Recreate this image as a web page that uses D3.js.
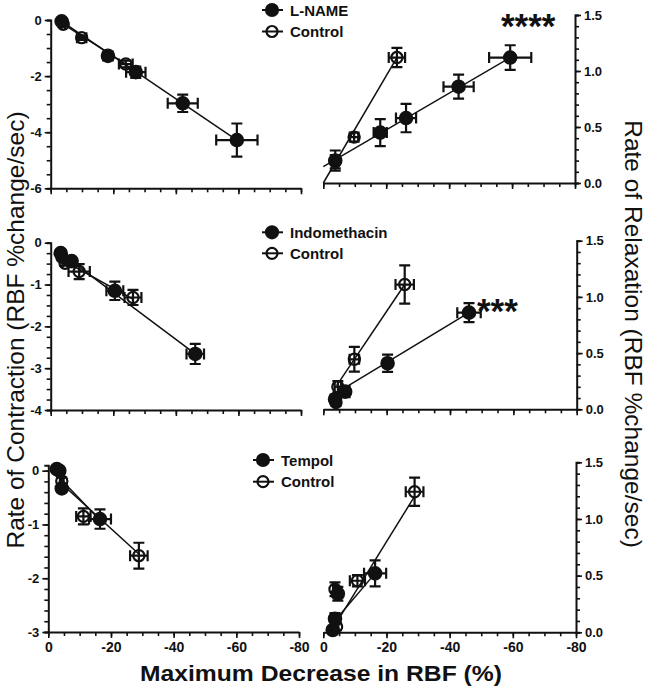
<!DOCTYPE html>
<html><head><meta charset="utf-8">
<script src="https://cdn.jsdelivr.net/npm/d3@7"></script>
<style>body{margin:0;background:#fff}svg text{font-family:"Liberation Sans",Arial,sans-serif;fill:#111}</style>
</head><body><svg id="c" width="648" height="691"></svg>
<script>
// ---------- DATA (x = max decrease in RBF %, y = rate, xe / ye = SEM) ----------
const xTickValues = [0, -20, -40, -60, -80];
const legendNames = [["L-NAME", "Control"], ["Indomethacin", "Control"], ["Tempol", "Control"]];
const starLabels = ["****", "***", ""];

// Panel 1 : L-NAME
const lnameContraction        = [[-3.5,-0.05,0.6,0.06],[-18.3,-1.28,1.5,0.08],[-27.2,-1.86,3.1,0.2],[-42.2,-2.97,4.8,0.31],[-59.5,-4.28,6.6,0.59]];
const lnameCtrlContraction    = [[-4.0,-0.15,0.6,0.06],[-9.9,-0.63,1.5,0.08],[-24.0,-1.57,2.2,0.12]];
const lnameRelaxation         = [[-3.8,0.20,1.2,0.09],[-18.1,0.45,2.1,0.12],[-26.3,0.58,3.2,0.127],[-43.0,0.86,4.8,0.107],[-59.4,1.12,6.7,0.11]];
const lnameCtrlRelaxation     = [[-3.8,0.19,0.8,0.06],[-9.8,0.41,1.3,0.04],[-23.4,1.12,2.6,0.086]];
const lnameContractionFit     = [[-3.5,-0.05],[-59.5,-4.28]];
const lnameCtrlContractionFit = [[-4.0,-0.15],[-24.0,-1.57]];
const lnameRelaxationFit      = [[0,0.146],[-59.4,1.12]];
const lnameCtrlRelaxationFit  = [[0,0.0],[-23.4,1.12]];

// Panel 2 : Indomethacin
const indoContraction         = [[-3.2,-0.25,0.5,0.05],[-6.7,-0.44,1.0,0.06],[-20.5,-1.15,2.7,0.22],[-46.2,-2.66,2.8,0.24]];
const indoCtrlContraction     = [[-3.6,-0.35,0.5,0.06],[-4.6,-0.49,0.8,0.06],[-9.1,-0.69,3.4,0.18],[-26.3,-1.31,2.7,0.18]];
const indoRelaxation          = [[-3.7,0.09,0.5,0.04],[-6.9,0.157,1.2,0.05],[-20.3,0.41,1.0,0.077],[-46.0,0.86,3.7,0.085]];
const indoCtrlRelaxation      = [[-4.0,0.06,0.5,0.03],[-4.6,0.20,1.0,0.05],[-9.8,0.445,1.5,0.11],[-25.7,1.11,2.9,0.17]];
const indoContractionFit      = [[-3.2,-0.25],[-46.2,-2.66]];
const indoCtrlContractionFit  = [[-4.6,-0.45],[-26.3,-1.35]];
const indoRelaxationFit       = [[-4.8,0.157],[-46.0,0.86]];
const indoCtrlRelaxationFit   = [[-4.2,0.21],[-25.7,1.11]];

// Panel 3 : Tempol
const tempolContraction        = [[-2.7,0.03,0.5,0.05],[-3.5,0.0,0.6,0.05],[-4.3,-0.33,0.8,0.06],[-16.5,-0.90,3.5,0.18]];
const tempolCtrlContraction    = [[-3.2,0.02,0.4,0.04],[-4.3,-0.19,0.6,0.06],[-11.2,-0.85,2.3,0.15],[-28.9,-1.58,2.8,0.24]];
const tempolRelaxation         = [[-3.0,0.02,0.5,0.02],[-3.7,0.12,0.6,0.05],[-4.6,0.34,0.8,0.06],[-16.4,0.52,3.5,0.115]];
const tempolCtrlRelaxation     = [[-4.2,0.05,0.5,0.03],[-3.7,0.38,0.6,0.06],[-10.8,0.455,2.4,0.05],[-28.9,1.24,2.8,0.125]];
const tempolContractionFit     = [[-3.0,-0.1],[-16.5,-0.92]];
const tempolCtrlContractionFit = [[-3.5,-0.2],[-28.9,-1.55]];
const tempolRelaxationFit      = [[-4.2,0.12],[-16.4,0.52]];
const tempolCtrlRelaxationFit  = [[-2.7,0.02],[-28.9,1.2]];

// ---------- LAYOUT ----------
const panels = [
  { left:{domain:[-6,0], major:[0,-2,-4,-6], minorStep:0.5, top:20, bottom:188.3, x0:50.7, x1:301},
    right:{domain:[0,1.5], top:15, bottom:183, x0:323.3, x1:575},
    legend:{x:272, y:[10,31.5]}, star:{x:501, y:38},
    series:[
      {side:"left", filled:true, pts:lnameContraction, fit:lnameContractionFit},
      {side:"left", filled:false, pts:lnameCtrlContraction, fit:lnameCtrlContractionFit},
      {side:"right", filled:true, pts:lnameRelaxation, fit:lnameRelaxationFit},
      {side:"right", filled:false, pts:lnameCtrlRelaxation, fit:lnameCtrlRelaxationFit}]},
  { left:{domain:[-4,0], major:[0,-1,-2,-3,-4], minorStep:0.25, top:242.7, bottom:410, x0:50.7, x1:301},
    right:{domain:[0,1.5], top:240.7, bottom:409.3, x0:323.3, x1:576.7},
    legend:{x:272, y:[232.3,253.3]}, star:{x:477, y:323},
    series:[
      {side:"left", filled:true, pts:indoContraction, fit:indoContractionFit},
      {side:"left", filled:false, pts:indoCtrlContraction, fit:indoCtrlContractionFit},
      {side:"right", filled:true, pts:indoRelaxation, fit:indoRelaxationFit},
      {side:"right", filled:false, pts:indoCtrlRelaxation, fit:indoCtrlRelaxationFit}]},
  { left:{domain:[-3,0.1], major:[0,-1,-2,-3], minorStep:0.2, top:465.3, bottom:632, x0:48.3, x1:299},
    right:{domain:[0,1.5], top:462.3, bottom:632.3, x0:323.3, x1:576},
    legend:{x:263, y:[460,481.7]}, star:null, xLabels:true,
    series:[
      {side:"left", filled:true, pts:tempolContraction, fit:tempolContractionFit},
      {side:"left", filled:false, pts:tempolCtrlContraction, fit:tempolCtrlContractionFit},
      {side:"right", filled:true, pts:tempolRelaxation, fit:tempolRelaxationFit},
      {side:"right", filled:false, pts:tempolCtrlRelaxation, fit:tempolCtrlRelaxationFit}]}
];

const svg = d3.select("#c");
const INK = "#111";
const xMinor = d3.range(0, 17).map(i => -i * 5);

function styleAxis(g, w) {
  g.select(".domain").attr("stroke", INK).attr("stroke-width", w);
  g.selectAll(".tick line").attr("stroke", INK).attr("stroke-width", 1.6);
  g.selectAll(".tick text").attr("fill", INK).attr("font-weight", "bold").attr("font-size", "12.5px")
    .attr("font-family", '"Liberation Sans",Arial,sans-serif');
}

panels.forEach((p, pi) => {
  const yL = d3.scaleLinear().domain(p.left.domain).range([p.left.bottom, p.left.top]);
  const yR = d3.scaleLinear().domain(p.right.domain).range([p.right.bottom, p.right.top]);
  const xL = d3.scaleLinear().domain([0, -80]).range([p.left.x0, p.left.x1]);
  const xR = d3.scaleLinear().domain([0, -80]).range([p.right.x0, p.right.x1]);

  // ---- left panel axes
  const minorL = d3.range(0, Math.round(-p.left.domain[0] / p.left.minorStep) + 1).map(i => -i * p.left.minorStep);
  svg.append("g").attr("transform", `translate(${p.left.x0},0)`)
    .call(d3.axisLeft(yL).tickValues(minorL).tickSize(4).tickFormat(""))
    .call(g => styleAxis(g, 2));
  svg.append("g").attr("transform", `translate(${p.left.x0},0)`)
    .call(d3.axisLeft(yL).tickValues(p.left.major).tickSize(6).tickPadding(3).tickFormat(d => String(d)))
    .call(g => { styleAxis(g, 2); g.select(".domain").remove(); g.selectAll(".tick text").attr("font-size", "13px"); });

  // ---- right panel axis
  svg.append("g").attr("transform", `translate(${p.right.x1},0)`)
    .call(d3.axisRight(yR).tickValues(d3.range(0, 16).map(i => i / 10)).tickSize(4).tickFormat(""))
    .call(g => styleAxis(g, 2));
  svg.append("g").attr("transform", `translate(${p.right.x1},0)`)
    .call(d3.axisRight(yR).tickValues([0, 0.5, 1, 1.5]).tickSize(6).tickPadding(3).tickFormat(d => d.toFixed(1)))
    .call(g => { styleAxis(g, 2); g.select(".domain").remove(); g.selectAll(".tick text").attr("font-size", "13px"); });

  // ---- x axes
  [[xL, p.left.bottom], [xR, p.right.bottom]].forEach(([xs, yb]) => {
    svg.append("g").attr("transform", `translate(0,${yb})`)
      .call(d3.axisBottom(xs).tickValues(xMinor).tickSize(4).tickSizeOuter(0).tickFormat(""))
      .call(g => styleAxis(g, 2));
    svg.append("g").attr("transform", `translate(0,${yb})`)
      .call(d3.axisBottom(xs).tickValues(xTickValues).tickSize(6).tickPadding(4)
        .tickFormat(p.xLabels ? (d => String(d)) : ""))
      .call(g => { styleAxis(g, 2); g.select(".domain").remove(); g.selectAll(".tick text").attr("font-size", "14px"); });
  });

  // ---- series
  p.series.forEach(s => {
    const xs = s.side === "left" ? xL : xR;
    const ys = s.side === "left" ? yL : yR;
    const g = svg.append("g");
    g.append("path").attr("d", d3.line().x(d => xs(d[0])).y(d => ys(d[1]))(s.fit))
      .attr("stroke", INK).attr("stroke-width", 1.5).attr("fill", "none");
    const cap = 5.5;
    s.pts.forEach(d => {
      const cx = xs(d[0]), cy = ys(d[1]);
      const xa = xs(d[0] - d[2]), xb = xs(d[0] + d[2]);
      const ya = ys(d[1] - d[3]), yb = ys(d[1] + d[3]);
      const path = d3.path();
      path.moveTo(xa, cy); path.lineTo(xb, cy);
      path.moveTo(xa, cy - cap); path.lineTo(xa, cy + cap);
      path.moveTo(xb, cy - cap); path.lineTo(xb, cy + cap);
      path.moveTo(cx, ya); path.lineTo(cx, yb);
      path.moveTo(cx - cap, ya); path.lineTo(cx + cap, ya);
      path.moveTo(cx - cap, yb); path.lineTo(cx + cap, yb);
      g.append("path").attr("d", path.toString()).attr("stroke", INK).attr("stroke-width", 2.2).attr("fill", "none");
    });
    g.selectAll("circle").data(s.pts).join("circle")
      .attr("cx", d => xs(d[0])).attr("cy", d => ys(d[1]))
      .attr("r", s.filled ? 6.2 : 5.6)
      .attr("fill", s.filled ? INK : "none")
      .attr("stroke", INK).attr("stroke-width", 2.2);
  });

  // ---- legend
  legendNames[pi].forEach((name, i) => {
    const ly = p.legend.y[i];
    svg.append("line").attr("x1", p.legend.x - 10).attr("x2", p.legend.x + 11)
      .attr("y1", ly).attr("y2", ly).attr("stroke", INK).attr("stroke-width", 2);
    svg.append("circle").attr("cx", p.legend.x).attr("cy", ly).attr("r", i === 0 ? 6 : 5.5)
      .attr("fill", i === 0 ? INK : "none").attr("stroke", INK).attr("stroke-width", 2.2);
    svg.append("text").attr("x", p.legend.x + 18).attr("y", ly + 5.5)
      .attr("font-weight", "bold").attr("font-size", "15px").text(name);
  });

  // ---- significance stars
  if (starLabels[pi]) {
    svg.append("text").attr("x", p.star.x).attr("y", p.star.y)
      .attr("font-weight", "bold").attr("font-size", "35px").text(starLabels[pi]);
  }
});

// ---------- AXIS TITLES ----------
svg.append("text").attr("transform", "translate(24,330) rotate(-90)")
  .attr("text-anchor", "middle").attr("font-size", "24.5px").text("Rate of Contraction (RBF %change/sec)");
svg.append("text").attr("transform", "translate(625,334) rotate(90)")
  .attr("text-anchor", "middle").attr("font-size", "24.5px").text("Rate of Relaxation (RBF %change/sec)");
svg.append("text").attr("x", 321).attr("y", 681)
  .attr("text-anchor", "middle").attr("font-weight", "bold").attr("font-size", "21.5px")
  .attr("textLength", 362).attr("lengthAdjust", "spacingAndGlyphs").text("Maximum Decrease in RBF (%)");
</script></body></html>
